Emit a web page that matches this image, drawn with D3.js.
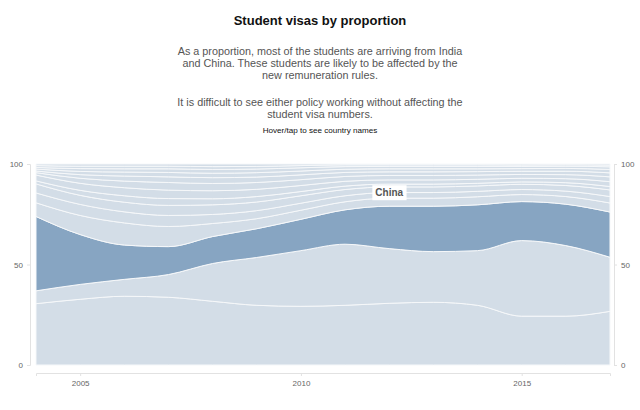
<!DOCTYPE html>
<html>
<head>
<meta charset="utf-8">
<script src="https://cdn.jsdelivr.net/npm/d3@7"></script>
<style>
  body { margin: 0; background: #fff; font-family: "Liberation Sans", Arial, sans-serif; }
  .axis path, .axis line { stroke: #e2e2e2; }
  .axis text { fill: #666; font-size: 8px; font-family: "Liberation Sans", Arial, sans-serif; }
</style>
</head>
<body>
<svg id="chart" width="640" height="410"></svg>
<script>
// years on the x axis
var years = [2004, 2005, 2006, 2007, 2008, 2009, 2010, 2011, 2012, 2013, 2014, 2015, 2016, 2017];

// series, bottom to top (share of student visas, %)
var other     = [30.5, 32.7, 34.2, 33.7, 31.7, 29.7, 29.2, 29.7, 30.7, 31.2, 29.7, 24.3, 24.3, 26.7];
var india     = [6.4, 7.4, 8.4, 11.3, 18.8, 23.8, 27.7, 30.4, 27.2, 25.2, 27.2, 37.6, 35.1, 26.9];
var china     = [37.0, 24.8, 17.1, 13.9, 13.4, 14.3, 15.6, 17.1, 21.1, 22.6, 22.8, 19.4, 20.6, 22.5];
var korea     = [6.8, 9.5, 11.0, 10.0, 6.5, 5.0, 4.5, 4.0, 4.0, 4.0, 4.0, 3.5, 3.8, 4.5];
var japan     = [4.9, 5.5, 5.5, 5.5, 4.5, 4.0, 3.5, 3.0, 2.8, 2.8, 2.7, 2.5, 2.7, 3.2];
var usa       = [4.5, 4.5, 4.8, 5.0, 4.8, 4.3, 3.7, 3.1, 2.8, 2.8, 2.7, 2.6, 2.8, 3.3];
var saudi     = [1.5, 2.5, 3.2, 3.4, 3.0, 2.7, 2.1, 1.7, 1.4, 1.4, 1.3, 1.2, 1.4, 1.7];
var germany   = [2.9, 3.5, 4.0, 4.2, 4.0, 3.6, 3.0, 2.4, 2.1, 2.1, 2.0, 1.8, 2.0, 2.4];
var brazil    = [1.2, 2.5, 3.3, 3.8, 3.6, 3.4, 2.9, 2.4, 2.2, 2.2, 2.1, 1.9, 2.0, 2.4];
var thailand  = [0.8, 1.8, 2.5, 2.8, 2.9, 2.7, 2.4, 2.0, 1.8, 1.8, 1.7, 1.6, 1.7, 2.0];
var vietnam   = [1.0, 1.6, 2.0, 2.2, 2.2, 2.2, 1.9, 1.6, 1.5, 1.5, 1.4, 1.3, 1.4, 1.7];
var malaysia  = [0.8, 1.4, 1.6, 1.8, 1.9, 1.8, 1.6, 1.3, 1.2, 1.2, 1.2, 1.1, 1.1, 1.3];
var philippines = [0.9, 1.2, 1.3, 1.3, 1.4, 1.3, 1.1, 0.9, 0.8, 0.8, 0.8, 0.7, 0.7, 0.8];
var france    = [0.8, 1.1, 1.1, 1.1, 1.3, 1.2, 0.8, 0.4, 0.4, 0.4, 0.4, 0.5, 0.4, 0.6];

var countries = ["Other", "India", "China", "South Korea", "Japan", "USA", "Saudi Arabia",
                 "Germany", "Brazil", "Thailand", "Vietnam", "Malaysia", "Philippines", "France"];
var series = [other, india, china, korea, japan, usa, saudi, germany, brazil,
              thailand, vietnam, malaysia, philippines, france];

var yTicks = [0, 50, 100];
var xTicks = [2005, 2010, 2015];

var rows = years.map(function(yr, i) {
    var r = { year: yr };
    countries.forEach(function(c, k) { r[c] = series[k][i]; });
    return r;
});

var svg = d3.select("#chart");

// titles
svg.append("text")
    .attr("x", 320).attr("y", 25)
    .attr("text-anchor", "middle")
    .style("font-size", "13px")
    .style("font-weight", "bold")
    .style("fill", "#111")
    .text("Student visas by proportion");

var blurb = [
    ["As a proportion, most of the students are arriving from India", 55],
    ["and China. These students are likely to be affected by the", 67],
    ["new remuneration rules.", 79],
    ["It is difficult to see either policy working without affecting the", 106],
    ["student visa numbers.", 118]
];
svg.selectAll(".blurb")
    .data(blurb)
    .enter().append("text")
    .attr("class", "blurb")
    .attr("x", 320)
    .attr("y", d => d[1])
    .attr("text-anchor", "middle")
    .style("font-size", "10.8px")
    .style("fill", "#555")
    .text(d => d[0]);

svg.append("text")
    .attr("x", 320).attr("y", 133)
    .attr("text-anchor", "middle")
    .style("font-size", "8.1px")
    .style("fill", "#111")
    .text("Hover/tap to see country names");

var x = d3.scaleLinear().domain([2004, 2017]).range([36, 610]);
var y = d3.scaleLinear().domain([0, 100]).range([365, 164]);

var stack = d3.stack().keys(countries).offset(d3.stackOffsetExpand);
var layers = stack(rows);

var area = d3.area()
    .x(d => x(d.data.year))
    .y0(d => y(d[0] * 100))
    .y1(d => y(d[1] * 100))
    .curve(d3.curveMonotoneX);

var g = svg.append("g");
g.selectAll(".layer")
    .data(layers)
    .enter().append("path")
    .attr("class", "layer")
    .attr("d", area)
    .attr("fill", d => d.key === "China" ? "#87a5c2" : "#d3dde7")
    .attr("stroke", "#f6f8fa")
    .attr("stroke-width", 1)
    .on("mouseover", function(event, d) { showLabel(d); });

// axes
svg.append("g").attr("class", "axis")
    .attr("transform", "translate(30,0)")
    .call(d3.axisLeft(y).tickValues(yTicks).tickSize(3).tickPadding(4));

svg.append("g").attr("class", "axis")
    .attr("transform", "translate(614,0)")
    .call(d3.axisRight(y).tickValues(yTicks).tickSize(3).tickPadding(4));

svg.append("g").attr("class", "axis")
    .attr("transform", "translate(0,373)")
    .call(d3.axisBottom(x).tickValues(xTicks).tickFormat(d3.format("d")).tickSize(3).tickPadding(4));

// label for highlighted country
var label = svg.append("g");
var labelBox = label.append("rect").attr("fill", "#fff");
var labelText = label.append("text")
    .attr("text-anchor", "middle")
    .style("font-size", "10px")
    .style("font-weight", "bold")
    .style("fill", "#555");

function showLabel(layer) {
    var pt = layer[8];
    var lx = x(pt.data.year);
    var ly = y(pt[1] * 100) - 10;
    labelText.attr("x", lx).attr("y", ly).text(layer.key);
    var bb = labelText.node().getBBox();
    labelBox.attr("x", bb.x - 3).attr("y", bb.y - 2)
        .attr("width", bb.width + 6).attr("height", bb.height + 4);
}
showLabel(layers[2]);
</script>
</body>
</html>
